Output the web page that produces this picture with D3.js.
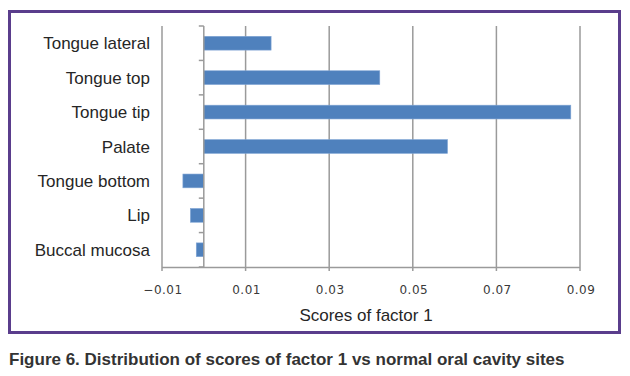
<!DOCTYPE html>
<html><head><meta charset="utf-8">
<script src="https://cdn.jsdelivr.net/npm/d3@7"></script>
<style>body{margin:0;background:#fff}svg{display:block}</style>
</head><body>
<svg id="c" width="630" height="376"></svg>
<script>
const categories = ["Tongue lateral","Tongue top","Tongue tip","Palate","Tongue bottom","Lip","Buccal mucosa"];
const values = [0.0161, 0.0421, 0.0878, 0.0583, -0.0050, -0.0032, -0.0018];
const tickValues = [-0.01, 0.01, 0.03, 0.05, 0.07, 0.09];
const tickLabels = ["\u22120.01","0.01","0.03","0.05","0.07","0.09"];
const xTitle = "Scores of factor 1";
const caption = "Figure 6. Distribution of scores of factor 1 vs normal oral cavity sites";

const svg = d3.select("#c");
const x = d3.scaleLinear().domain([-0.01, 0.09]).range([162, 580]);
const y = d3.scaleBand().domain(categories).range([26, 267]).paddingInner(0.6).paddingOuter(0.3);
const yb = d3.scaleBand().domain(categories).range([26, 267]);

// frame
svg.append("rect").attr("x",9.5).attr("y",11.5).attr("width",610).attr("height",321)
  .attr("fill","none").attr("stroke","#5a3d8c").attr("stroke-width",3);

// gridlines
svg.append("g").selectAll("line").data(tickValues).join("line")
  .attr("x1",d=>x(d)).attr("x2",d=>x(d)).attr("y1",26).attr("y2",271)
  .attr("stroke","#9a9a9a").attr("stroke-width",1.5);
// x axis line
svg.append("line").attr("x1",x(-0.01)).attr("x2",x(0.09)).attr("y1",267.5).attr("y2",267.5)
  .attr("stroke","#9a9a9a").attr("stroke-width",1.5);

// bars
svg.append("g").selectAll("rect").data(categories).join("rect")
  .attr("x",(d,i)=>x(Math.min(0,values[i])))
  .attr("width",(d,i)=>Math.abs(x(values[i])-x(0)))
  .attr("y",d=>y(d)).attr("height",y.bandwidth())
  .attr("fill","#4f81bd").attr("stroke","#7fa4d4").attr("stroke-width",0.6);

// category axis at zero
svg.append("line").attr("x1",x(0)).attr("x2",x(0)).attr("y1",26).attr("y2",267)
  .attr("stroke","#9a9a9a").attr("stroke-width",1.5);
const bounds = categories.map(c=>yb(c)).concat([267]);
svg.append("g").selectAll("line").data(bounds).join("line")
  .attr("x1",x(0)-5).attr("x2",x(0)).attr("y1",d=>d).attr("y2",d=>d)
  .attr("stroke","#9a9a9a").attr("stroke-width",1.5);

// category labels
svg.append("g").selectAll("text").data(categories).join("text")
  .attr("x",150).attr("y",d=>yb(d)+yb.bandwidth()/2).attr("dy","0.36em")
  .attr("text-anchor","end").attr("font-family","Liberation Sans, Arial, sans-serif")
  .attr("font-size",17).attr("fill","#262626").text(d=>d);

// tick labels
svg.append("g").selectAll("text").data(tickValues).join("text")
  .attr("x",d=>x(d)+1).attr("y",294).attr("text-anchor","middle")
  .attr("font-family","DejaVu Sans, sans-serif").attr("font-size",12).attr("letter-spacing",0.5)
  .attr("fill","#3a3a3a")
  .text((d,i)=>tickLabels[i]);

svg.append("text").attr("x",366).attr("y",321).attr("text-anchor","middle")
  .attr("font-family","Liberation Sans, Arial, sans-serif").attr("font-size",17).attr("fill","#262626")
  .text(xTitle);

svg.append("text").attr("x",9).attr("y",365)
  .attr("font-family","Liberation Sans, Arial, sans-serif").attr("font-weight","bold")
  .attr("font-size",17).attr("fill","#333").text(caption);
</script>
</body></html>
